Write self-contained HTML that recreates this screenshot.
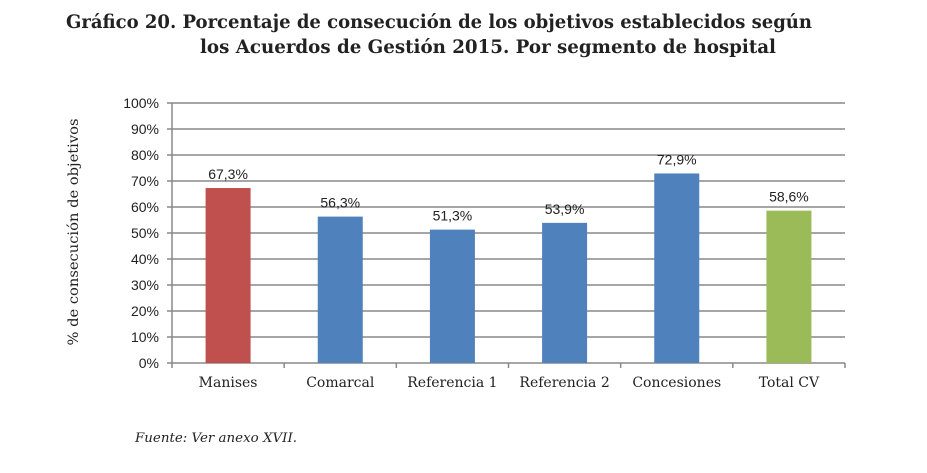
<!DOCTYPE html>
<html><head><meta charset="utf-8"><style>
body{margin:0;background:#fff;width:927px;height:468px;overflow:hidden}
svg text{font-family:"DejaVu Serif","Liberation Serif",serif}
svg text.s{font-family:"Liberation Sans",sans-serif}
</style></head><body>
<svg width="927" height="468">
<text x="66" y="28" font-size="19" font-weight="bold" fill="#222" textLength="746" lengthAdjust="spacingAndGlyphs">Gráfico 20.  Porcentaje de consecución de los objetivos establecidos según</text>
<text x="200" y="53" font-size="19" font-weight="bold" fill="#222" textLength="576" lengthAdjust="spacingAndGlyphs">los Acuerdos de Gestión 2015. Por segmento de hospital</text>
<text transform="translate(78,232) rotate(-90)" text-anchor="middle" font-size="14" fill="#222" textLength="227" lengthAdjust="spacingAndGlyphs">% de consecución de objetivos</text>
<g id="grid"></g><g id="bars"></g>
<text x="135" y="442" font-size="13" font-style="italic" fill="#222" textLength="162" lengthAdjust="spacingAndGlyphs">Fuente: Ver anexo XVII.</text>
</svg>
<script>
const categories=["Manises","Comarcal","Referencia 1","Referencia 2","Concesiones","Total CV"];
const values=[67.3,56.3,51.3,53.9,72.9,58.6];
const labels=["67,3%","56,3%","51,3%","53,9%","72,9%","58,6%"];
const colors=["#c0504d","#4f81bd","#4f81bd","#4f81bd","#4f81bd","#9bbb59"];
const yTicks=[0,10,20,30,40,50,60,70,80,90,100];
const NS="http://www.w3.org/2000/svg";
const x0=172,x1=845,y0=363,y1=103,cw=(x1-x0)/categories.length;
const y=v=>y0-(v/100)*(y0-y1);
function mk(t,a,p){const e=document.createElementNS(NS,t);for(const k in a)e.setAttribute(k,a[k]);p.appendChild(e);return e;}
const g=document.getElementById('grid'),b=document.getElementById('bars');
yTicks.forEach(t=>{
 const l=mk('line',{x1:x0-5,x2:x1,y1:y(t),y2:y(t),stroke:'#898989','stroke-width':1.5},g);
 
 
 const tx=mk('text',{class:'s',x:x0-13,y:y(t)+5,'text-anchor':'end','font-size':14,fill:'#222'},g);tx.textContent=t+'%';
 
 
});
const ax=mk('line',{x1:x0,x2:x0,y1:y1,y2:y0,stroke:'#898989','stroke-width':1.5},g);


for(let i=0;i<=categories.length;i++){const t=mk('line',{x1:x0+i*cw,x2:x0+i*cw,y1:y0,y2:y0+5,stroke:'#898989','stroke-width':1.5},g);
 
 }
categories.forEach((c,i)=>{
 const cx=x0+cw*(i+0.5),w=45;
 const r=mk('rect',{x:cx-w/2,y:y(values[i]),width:w,height:y0-y(values[i]),fill:colors[i]},b);
 
 
 const vl=mk('text',{class:'s',x:cx,y:y(values[i])-9,'text-anchor':'middle','font-size':14,fill:'#222'},b);vl.textContent=labels[i];
 
 
 const cl=mk('text',{x:cx,y:387,'text-anchor':'middle','font-size':14,fill:'#222'},b);cl.textContent=c;
 
 
});
</script>
</body></html>
